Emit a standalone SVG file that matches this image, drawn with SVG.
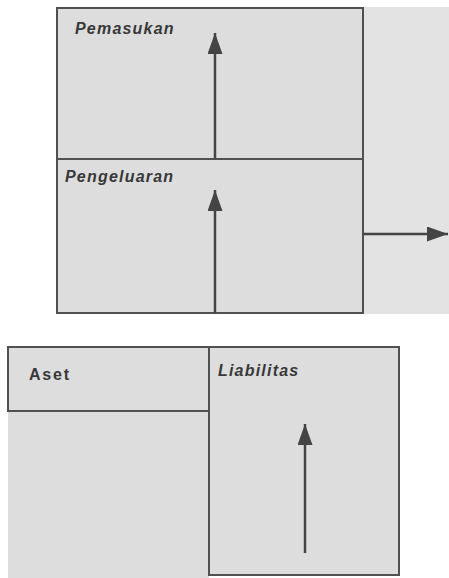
<svg xmlns="http://www.w3.org/2000/svg" width="449" height="578" viewBox="0 0 449 578">
<style>
.box{fill:#dddddd;stroke:#505050;stroke-width:2}
.lbl{font-family:"Liberation Sans",Arial,sans-serif;font-weight:bold;font-size:16px;fill:#383838;letter-spacing:1.2px}
.it{font-style:italic}
.con{stroke:#444;stroke-width:2.5;fill:none;marker-end:url(#ah)}
</style>
<defs>
<marker id="ah" markerWidth="21" markerHeight="15" viewBox="0 0 21 15" refX="21" refY="7.5" orient="auto" markerUnits="userSpaceOnUse">
<path d="M0,0 L21,7.5 L0,15 Z" fill="#444"/>
</marker>
</defs>
<rect width="449" height="578" fill="#ffffff"/>
<rect x="363" y="7" width="86" height="307" fill="#e3e3e3"/>
<g id="pemasukan">
<rect class="box" x="57" y="8" width="306" height="151"/>
<text class="lbl it" x="75" y="34">Pemasukan</text>
</g>
<g id="pengeluaran">
<rect class="box" x="57" y="159" width="306" height="154"/>
<text class="lbl it" x="65" y="182">Pengeluaran</text>
</g>
<g id="aset-bawah">
<rect x="8" y="411" width="201" height="167" fill="#dddddd"/>
</g>
<g id="aset">
<rect class="box" x="8" y="347" width="201" height="64"/>
<text class="lbl" x="29" y="380" style="letter-spacing:1.8px">Aset</text>
</g>
<g id="liabilitas">
<rect class="box" x="209" y="347" width="190" height="228"/>
<text class="lbl it" x="218" y="376">Liabilitas</text>
</g>
<g id="connectors">
<line class="con" x1="215" y1="159" x2="215" y2="33"/>
<line class="con" x1="215" y1="313" x2="215" y2="190"/>
<line class="con" x1="363" y1="234" x2="448" y2="234"/>
<line class="con" x1="305" y1="553" x2="305" y2="424"/>
</g>
</svg>
